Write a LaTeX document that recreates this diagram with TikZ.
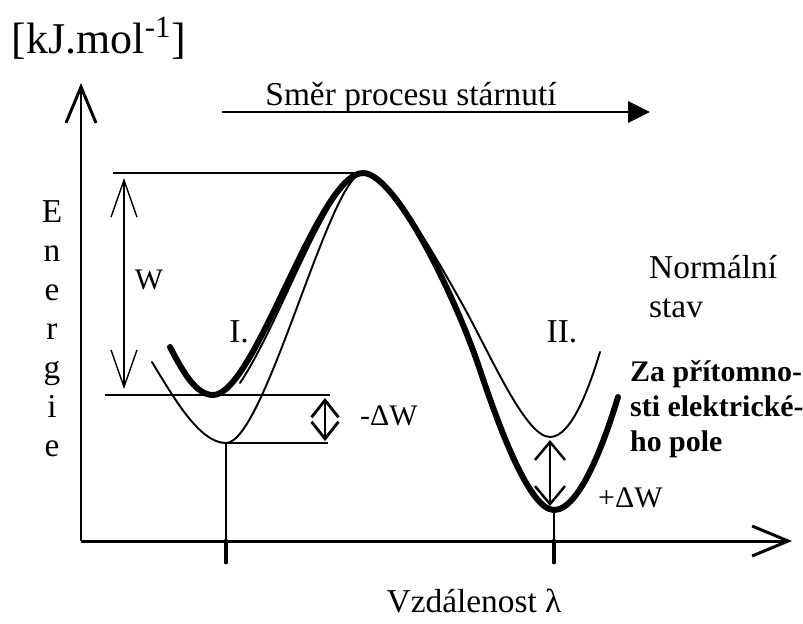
\documentclass[tikz,border=0pt]{standalone}
\usepackage{fontspec}
\setmainfont{Liberation Serif}
\usetikzlibrary{arrows.meta}

\begin{document}
\begin{tikzpicture}[x=0.02cm,y=-0.02cm,
  txt/.style={font=\fontsize{19}{23}\selectfont},
  small/.style={font=\fontsize{17}{20}\selectfont},
  boldtxt/.style={font=\bfseries\fontsize{17}{20}\selectfont},
  axis/.style={line width=1.7pt,-{Straight Barb[length=0.72cm,width=0.6cm]}},
  thinline/.style={line width=0.8pt},
  thickcurve/.style={line width=3.4pt,line cap=round,line join=round},
  thincurve/.style={line width=1.1pt,line cap=round}]
\useasboundingbox (0,0) rectangle (803,623);
\coordinate (O) at (81,541);
\coordinate (Ytip) at (81,83);
\coordinate (Xtip) at (792,541);
\coordinate (P) at (363,173);
\coordinate (AI) at (213,395);
\coordinate (BI) at (226,443);
\coordinate (AII) at (554,510);
\coordinate (BII) at (550,437);
% axes and ticks
\draw[axis] (O)--(Ytip);
\draw[axis] (O)--(Xtip);
\foreach \x/\n in {226/I,554/II}{
  \coordinate (T\n) at (\x,541);
  \draw[line width=2.8pt,line cap=round] (T\n)--(\x,562);}
\draw[thinline] (BI)--(TI);
\draw[thinline] (AII)--(TII);
% levels
\coordinate (L0) at (113,173);
\coordinate (L1) at (105,395);
\coordinate (L1e) at (330,395);
\coordinate (L2e) at (328,443);
\draw[thinline] (L0)--(P);
\draw[thinline] (L1)--(L1e);
\draw[thinline] (BI)--(L2e);
% curves
\draw[thincurve] (152,362) .. controls (175,400) and (200,443) .. (BI)
  .. controls (265,443) and (330,173) .. (P)
  .. controls (390,173) and (440,265) .. (460,300)
  .. controls (490,353) and (525,437) .. (BII)
  .. controls (572,437) and (590,385) .. (600,352);
\draw[thincurve] (240,383) .. controls (282,320) and (330,173) .. (P);
\draw[thickcurve] (170,347) .. controls (183,372) and (196,395) .. (AI)
  .. controls (255,395) and (318,173) .. (P)
  .. controls (395,173) and (455,295) .. (480,370)
  .. controls (500,430) and (530,510) .. (AII)
  .. controls (580,510) and (605,440) .. (618,397);
% energy differences
\coordinate (Wt) at (124,178);
\coordinate (Wb) at (124,389);
\draw[thinline,{Straight Barb[length=0.74cm,width=0.52cm]}-{Straight Barb[length=0.74cm,width=0.52cm]}] (Wt)--(Wb);
\coordinate (dWt) at (325,398);
\coordinate (dWb) at (325,441);
\draw[line width=1.6pt,{Straight Barb[length=0.34cm,width=0.54cm]}-{Straight Barb[length=0.34cm,width=0.54cm]}] (dWt)--(dWb);
\coordinate (pWt) at (550,440);
\coordinate (pWb) at (550,506);
\draw[line width=1.4pt,{Straight Barb[length=0.36cm,width=0.6cm]}-{Straight Barb[length=0.36cm,width=0.6cm]}] (pWt)--(pWb);
% process direction
\coordinate (S0) at (222,112);
\coordinate (S1) at (650,112);
\draw[line width=1.6pt,-{Triangle[length=0.44cm,width=0.42cm]}] (S0)--(S1);
% labels
\node[anchor=base,font=\fontsize{25}{30}\selectfont] (unit) at (99,53) {[kJ.mol\textsuperscript{-1}]};
\foreach \c [count=\i] in {E,n,e,r,g,i,e}
  \node[txt,anchor=base] (en\i) at (52,{183+39*\i}) {\c};
\node[txt,anchor=base] (smer) at (411,105) {Směr procesu stárnutí};
\node[txt,anchor=base] (vzd) at (474,612) {Vzdálenost λ};
\node[small] (w) at (149,280) {W};
\node[txt] (m1) at (239,332) {I.};
\node[txt] (m2) at (562,332) {II.};
\node[small,anchor=west] (mdw) at (354,416) {-ΔW};
\node[small,anchor=west] (pdw) at (592,498) {+ΔW};
\node[txt,anchor=base west] (norm) at (643,278) {Normální};
\node[txt,anchor=base west] (stav) at (643,317) {stav};
\foreach \t/\y [count=\i] in {Za přítomno-/381,sti elektrické-/416,ho pole/451}
  \node[boldtxt,anchor=base west] (za\i) at (624,\y) {\t};
\end{tikzpicture}
\end{document}
